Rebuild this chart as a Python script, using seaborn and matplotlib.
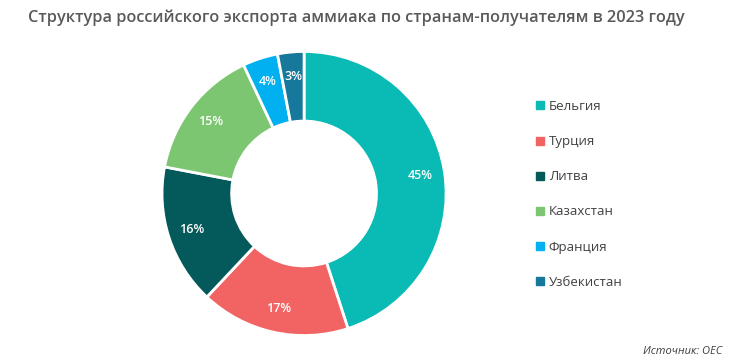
import numpy as np
import pandas as pd
import seaborn as sns
import matplotlib.pyplot as plt
from matplotlib.lines import Line2D

# данные
countries = ["Бельгия", "Турция", "Литва", "Казахстан", "Франция", "Узбекистан"]
shares = [45, 17, 16, 15, 4, 3]
colors = ["#0ABAB5", "#F26464", "#045A5A", "#7CC671", "#00B0F0", "#16789A"]

sns.set_theme(style="white")
plt.rcParams['font.family'] = ['Open Sans', 'DejaVu Sans']

fig = plt.figure(figsize=(7.38, 3.6), dpi=100)
ax = fig.add_axes([0.2195, 0.068, 0.385, 0.789])

wedges, texts, autotexts = ax.pie(
    shares, colors=colors, startangle=90, counterclock=False,
    autopct=lambda p: f"{p:.0f}%", pctdistance=0.83,
    wedgeprops=dict(width=0.49, edgecolor="white", linewidth=2),
    textprops=dict(color="white", fontsize=9, fontweight="semibold"),
)
ax.set_xlim(-1, 1)
ax.set_ylim(-1, 1)
ax.set_aspect("equal")

fig.text(0.038, 0.95, "Структура российского экспорта аммиака по странам-получателям в 2023 году",
         fontsize=11.7, color="#595959", fontweight="semibold", va="center", ha="left")

handles = [Line2D([0], [0], marker="s", linestyle="", markersize=6,
                  markerfacecolor=c, markeredgecolor=c) for c in colors]
fig.legend(handles, countries, loc="center left", bbox_to_anchor=(0.706, 0.46),
           frameon=False, fontsize=9.5, labelspacing=1.68, handletextpad=0.2,
           handlelength=1.0, labelcolor="#404040")

fig.text(0.978, 0.025, "Источник: OEC", fontsize=8, style="italic",
         color="#404040", ha="right", va="center")

fig.savefig("out.png", dpi=100)
